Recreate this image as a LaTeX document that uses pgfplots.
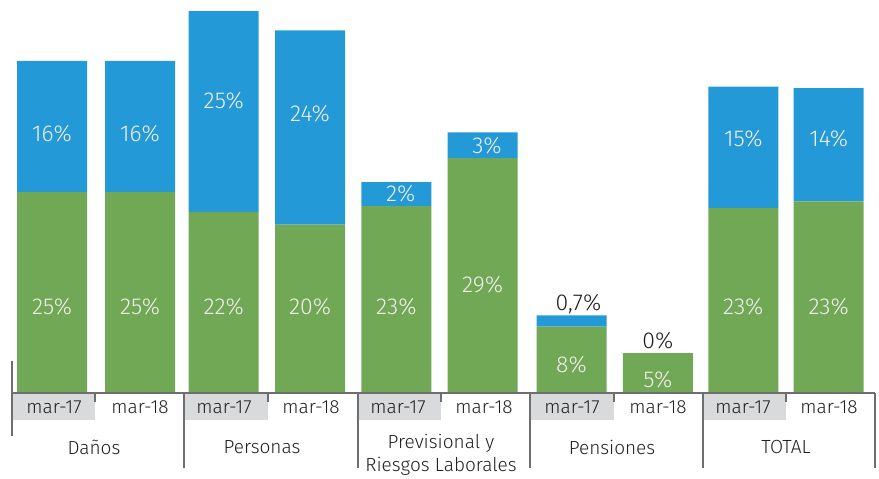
\documentclass[border=0pt]{standalone}
\usepackage{fontspec}
\setmainfont{Fira Sans Light}
\usepackage{pgfplots}
\usepackage{pgfplotstable}
\pgfplotsset{compat=1.18}

\definecolor{barblue}{HTML}{2399D7}
\definecolor{bargreen}{HTML}{71A855}
\definecolor{boxgray}{HTML}{D9DADB}
\definecolor{linegray}{HTML}{6D6E71}
\definecolor{txt}{HTML}{231F20}

\tikzset{
  val/.style={font=\fontsize{23}{25}\selectfont, text=white!94!black},
  valdark/.style={font=\fontsize{23}{25}\selectfont, text=txt},
  lab/.style={font=\fontsize{19}{23}\selectfont, text=txt},
}

% green = lower segment, blue = upper segment (bar heights as drawn)
\pgfplotstableread{
idx green blue
0 25.0 16.3
1.02 25.0 16.3
1.99 22.5 25.0
2.99 20.9 24.2
3.99 23.2 3.0
4.99 29.2 3.2
6.02 8.2 1.4
7.02 4.9 0.0
8.01 23.0 15.1
9.0 23.8 14.1
}\shares

\begin{document}
\begin{tikzpicture}
\begin{axis}[
  at={(12pt,-392.5pt)}, anchor=south west,
  width=863pt, height=392.5pt, scale only axis,
  xmin=-0.4635, xmax=9.5365, ymin=0, ymax=48.88,
  ybar stacked, bar width=70pt,
  hide axis, clip=false,
]
\addplot[fill=bargreen, draw=none] table[x=idx, y=green] {\shares};
\addplot[fill=barblue, draw=none] table[x=idx, y=blue] {\shares};

% label anchors (upper segment u*, lower segment l*)
\coordinate (u0) at (axis cs:0,32.19);
\coordinate (u1) at (axis cs:1.02,32.19);
\coordinate (u2) at (axis cs:1.99,36.30);
\coordinate (u3) at (axis cs:2.99,34.68);
\coordinate (u4) at (axis cs:4.04,24.72);
\coordinate (u5) at (axis cs:5.04,30.70);
\coordinate (u6) at (axis cs:6.1,11.02);
\coordinate (u7) at (axis cs:7.02,6.41);
\coordinate (u8) at (axis cs:8.01,31.57);
\coordinate (u9) at (axis cs:9,31.57);
\coordinate (l0) at (axis cs:0,10.65);
\coordinate (l1) at (axis cs:1.02,10.65);
\coordinate (l2) at (axis cs:1.99,10.65);
\coordinate (l3) at (axis cs:2.99,10.65);
\coordinate (l4) at (axis cs:3.99,10.65);
\coordinate (l5) at (axis cs:4.99,13.39);
\coordinate (l6) at (axis cs:6.02,3.42);
\coordinate (l7) at (axis cs:7.02,1.56);
\coordinate (l8) at (axis cs:8.01,10.65);
\coordinate (l9) at (axis cs:9,10.65);
\end{axis}

\node[val] at (u0) {16\%};
\node[val] at (u1) {16\%};
\node[val] at (u2) {25\%};
\node[val] at (u3) {24\%};
\node[val] at (u4) {2\%};
\node[val] at (u5) {3\%};
\node[valdark] at (u6) {0,7\%};
\node[valdark] at (u7) {0\%};
\node[val] at (u8) {15\%};
\node[val] at (u9) {14\%};
\node[val] at (l0) {25\%};
\node[val] at (l1) {25\%};
\node[val] at (l2) {22\%};
\node[val] at (l3) {20\%};
\node[val] at (l4) {23\%};
\node[val] at (l5) {29\%};
\node[val] at (l6) {8\%};
\node[val] at (l7) {5\%};
\node[val] at (l8) {23\%};
\node[val] at (l9) {23\%};

% category band under the bars
\foreach \s/\m in {12/95, 184/268, 358/441, 530/614, 703/786}
  \fill[boxgray] (\s pt,-393pt) rectangle (\m pt,-420pt);
\draw[linegray, line width=1.1pt] (12pt,-393pt) -- (875pt,-393pt);
\draw[linegray, line width=1.1pt] (12pt,-361pt) -- (12pt,-436pt);
\foreach \s in {184, 358, 530, 703, 875}
  \draw[linegray, line width=1.1pt] (\s pt,-393pt) -- (\s pt,-468pt);
\foreach \m in {95, 268, 441, 614, 786}
  \draw[linegray, line width=1.1pt] (\m pt,-393pt) -- (\m pt,-402pt);

\foreach \x/\t in {54/mar-17, 140/mar-18, 224/mar-17, 311/mar-18, 398/mar-17,
                   484/mar-18, 572/mar-17, 658/mar-18, 743/mar-17, 829/mar-18}
  \node[lab] at (\x pt,-407pt) {\t};
\node[lab] at (94pt,-447pt) {Daños};
\node[lab] at (262pt,-447pt) {Personas};
\node[lab, align=center] at (441pt,-454.5pt) {Previsional y\\Riesgos Laborales};
\node[lab] at (612pt,-447pt) {Pensiones};
\node[lab] at (786pt,-447pt) {TOTAL};

\pgfresetboundingbox
\path[use as bounding box] (0pt,0pt) rectangle (879pt,-479pt);
\end{tikzpicture}
\end{document}
